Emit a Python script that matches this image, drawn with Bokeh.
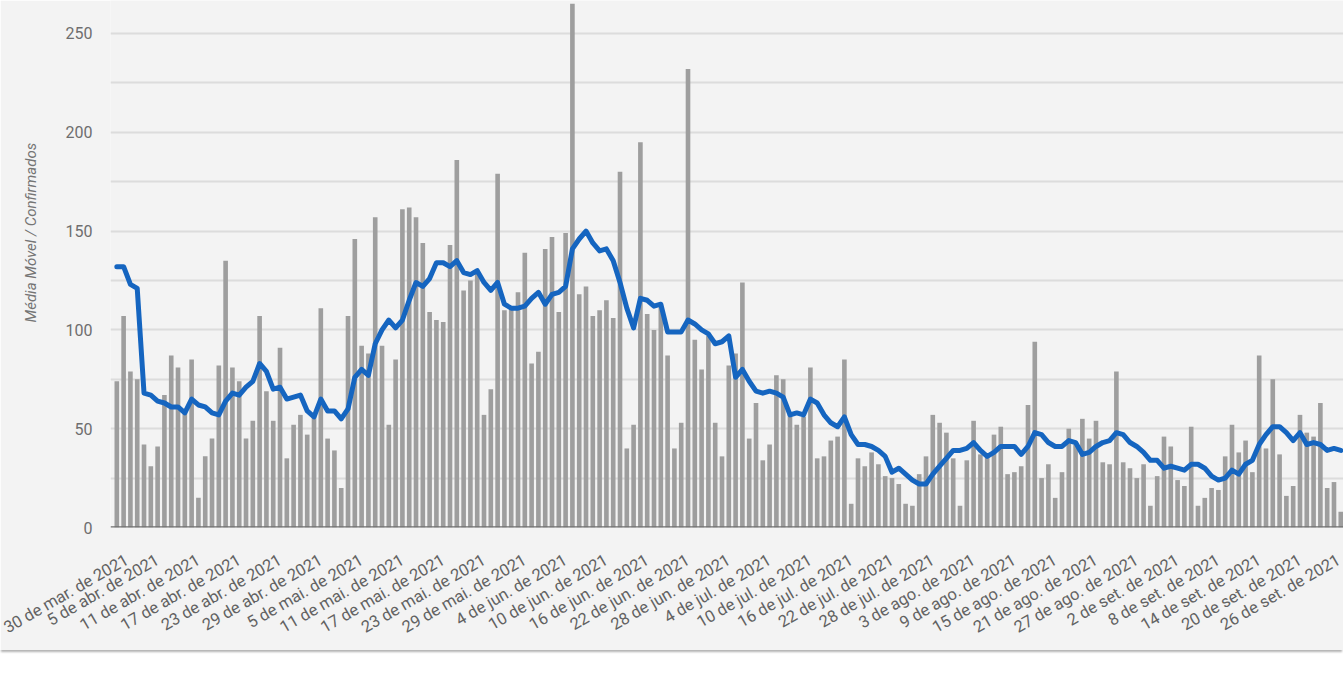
from math import pi
from bokeh.plotting import figure
from bokeh.models import Range1d, FixedTicker, Span, Title
from bokeh.embed import file_html
from bokeh.resources import INLINE

# Casos confirmados por dia (30 mar. 2021 a 26 set. 2021)
confirmados_mar = [74, 107]
confirmados_abr = [79, 75, 42, 31, 41, 67, 87, 81, 60, 85, 15, 36, 45, 82, 135,
                   81, 74, 45, 54, 107, 69, 54, 91, 35, 52, 57, 47, 57, 111, 45]
confirmados_mai = [39, 20, 107, 146, 92, 88, 157, 92, 52, 85, 161, 162, 157, 144, 109,
                   105, 104, 143, 186, 120, 125, 130, 57, 70, 179, 110, 112, 119, 139, 83, 89]
confirmados_jun = [141, 147, 109, 149, 265, 118, 122, 107, 110, 115, 106, 180, 40, 52, 195,
                   108, 100, 112, 87, 40, 53, 232, 95, 80, 97, 53, 36, 82, 88, 124]
confirmados_jul = [45, 63, 34, 42, 77, 75, 57, 52, 56, 81, 35, 36, 44, 46, 85,
                   12, 35, 31, 38, 32, 26, 25, 22, 12, 11, 27, 36, 57, 53, 48, 35]
confirmados_ago = [11, 34, 54, 37, 36, 47, 51, 27, 28, 31, 62, 94, 25, 32, 15,
                   28, 50, 42, 55, 45, 54, 33, 32, 79, 33, 30, 25, 32, 11, 26, 46]
confirmados_set = [41, 24, 21, 51, 11, 15, 20, 19, 36, 52, 38, 44, 28, 87, 40,
                   75, 37, 16, 21, 57, 48, 46, 63, 20, 23, 8]

# Média móvel
media_mar = [132, 132]
media_abr = [123, 121, 68, 67, 64, 63, 61, 61, 58, 65, 62, 61, 58, 57, 64,
             68, 67, 71, 74, 83, 79, 70, 71, 65, 66, 67, 59, 56, 65, 59]
media_mai = [59, 55, 60, 76, 80, 77, 93, 100, 105, 101, 105, 115, 124, 122, 126,
             134, 134, 132, 135, 129, 128, 130, 124, 120, 124, 113, 111, 111, 112, 116, 119]
media_jun = [113, 118, 119, 122, 141, 146, 150, 144, 140, 141, 135, 124, 111, 101, 116,
             115, 112, 113, 99, 99, 99, 105, 103, 100, 98, 93, 94, 97, 76, 80]
media_jul = [74, 69, 68, 69, 68, 66, 57, 58, 57, 65, 63, 57, 53, 51, 56,
             47, 42, 42, 41, 39, 36, 28, 30, 27, 24, 22, 22, 27, 31, 35, 39]
media_ago = [39, 40, 43, 39, 36, 38, 41, 41, 41, 37, 41, 48, 47, 43, 41,
             41, 44, 43, 37, 38, 41, 43, 44, 48, 47, 43, 41, 38, 34, 34, 30]
media_set = [31, 30, 29, 32, 32, 30, 26, 24, 25, 29, 27, 32, 34, 42, 47,
             51, 51, 48, 44, 48, 42, 43, 42, 39, 40, 39]

rotulos_datas = [
    "30 de mar. de 2021", "5 de abr. de 2021", "11 de abr. de 2021", "17 de abr. de 2021",
    "23 de abr. de 2021", "29 de abr. de 2021", "5 de mai. de 2021", "11 de mai. de 2021",
    "17 de mai. de 2021", "23 de mai. de 2021", "29 de mai. de 2021", "4 de jun. de 2021",
    "10 de jun. de 2021", "16 de jun. de 2021", "22 de jun. de 2021", "28 de jun. de 2021",
    "4 de jul. de 2021", "10 de jul. de 2021", "16 de jul. de 2021", "22 de jul. de 2021",
    "28 de jul. de 2021", "3 de ago. de 2021", "9 de ago. de 2021", "15 de ago. de 2021",
    "21 de ago. de 2021", "27 de ago. de 2021", "2 de set. de 2021", "8 de set. de 2021",
    "14 de set. de 2021", "20 de set. de 2021", "26 de set. de 2021",
]
y_ticks = [0, 50, 100, 150, 200, 250]
y_minor = [25, 75, 125, 175, 225]

confirmados = (confirmados_mar + confirmados_abr + confirmados_mai + confirmados_jun
               + confirmados_jul + confirmados_ago + confirmados_set)
media = media_mar + media_abr + media_mai + media_jun + media_jul + media_ago + media_set
dias = list(range(len(confirmados)))
tick_pos = list(range(0, len(dias), 6))

FONT = "Roboto"
BG = "#f3f3f3"

p = figure(width=1343, height=650, output_backend="svg", toolbar_location=None, tools="",
           x_range=Range1d(-0.93, 180.4), y_range=Range1d(0, 266.7),
           min_border_left=110, min_border_right=0, min_border_top=0, min_border_bottom=123,
           background_fill_color=BG, border_fill_color=BG, outline_line_color=None)
p.styles = {"box-shadow": "0px 3px 2px -1px rgba(0,0,0,0.30)"}

# grid
p.xgrid.visible = False
p.ygrid.ticker = FixedTicker(ticks=y_ticks, minor_ticks=y_minor)
p.ygrid.grid_line_color = "#dcdcdc"
p.ygrid.grid_line_width = 2
p.ygrid.minor_grid_line_color = "#dcdcdc"
p.ygrid.minor_grid_line_width = 2

# y axis
p.yaxis.ticker = FixedTicker(ticks=y_ticks, minor_ticks=y_minor)
p.yaxis.axis_line_color = None
p.yaxis.major_tick_line_color = None
p.yaxis.minor_tick_line_color = None
p.yaxis.major_tick_out = 0
p.yaxis.minor_tick_out = 0
p.yaxis.major_label_standoff = 18
p.yaxis.major_label_text_font = FONT
p.yaxis.major_label_text_font_size = "16px"
p.yaxis.major_label_text_color = "#6e6e6e"

# x axis
p.xaxis.ticker = FixedTicker(ticks=tick_pos)
p.xaxis.major_label_overrides = {t: r for t, r in zip(tick_pos, rotulos_datas)}
p.xaxis.major_label_orientation = pi / 6
p.xaxis.axis_line_color = None
p.xaxis.major_tick_line_color = None
p.xaxis.minor_tick_line_color = None
p.xaxis.major_tick_out = 0
p.xaxis.minor_tick_out = 0
p.xaxis.major_label_standoff = 31
p.xaxis.major_label_text_font = FONT
p.xaxis.major_label_text_font_size = "16.5px"
p.xaxis.major_label_text_color = "#626262"

p.vbar(x=dias, top=confirmados, width=0.68, fill_color="#9e9e9e", line_color=None)
p.add_layout(Span(location=0, dimension="width", line_color="#6f6f6f", line_width=2.5))
p.line(dias, media, line_color="#1565c0", line_width=5, line_join="round", line_cap="round")

y_title = Title(text="Média Móvel / Confirmados", align="left", vertical_align="top",
                offset=205, standoff=42, text_font=FONT, text_font_style="italic",
                text_font_size="15px", text_color="#757575")
p.add_layout(y_title, "left")

open("out.html", "w").write(file_html(p, INLINE, title="Média Móvel / Confirmados"))
